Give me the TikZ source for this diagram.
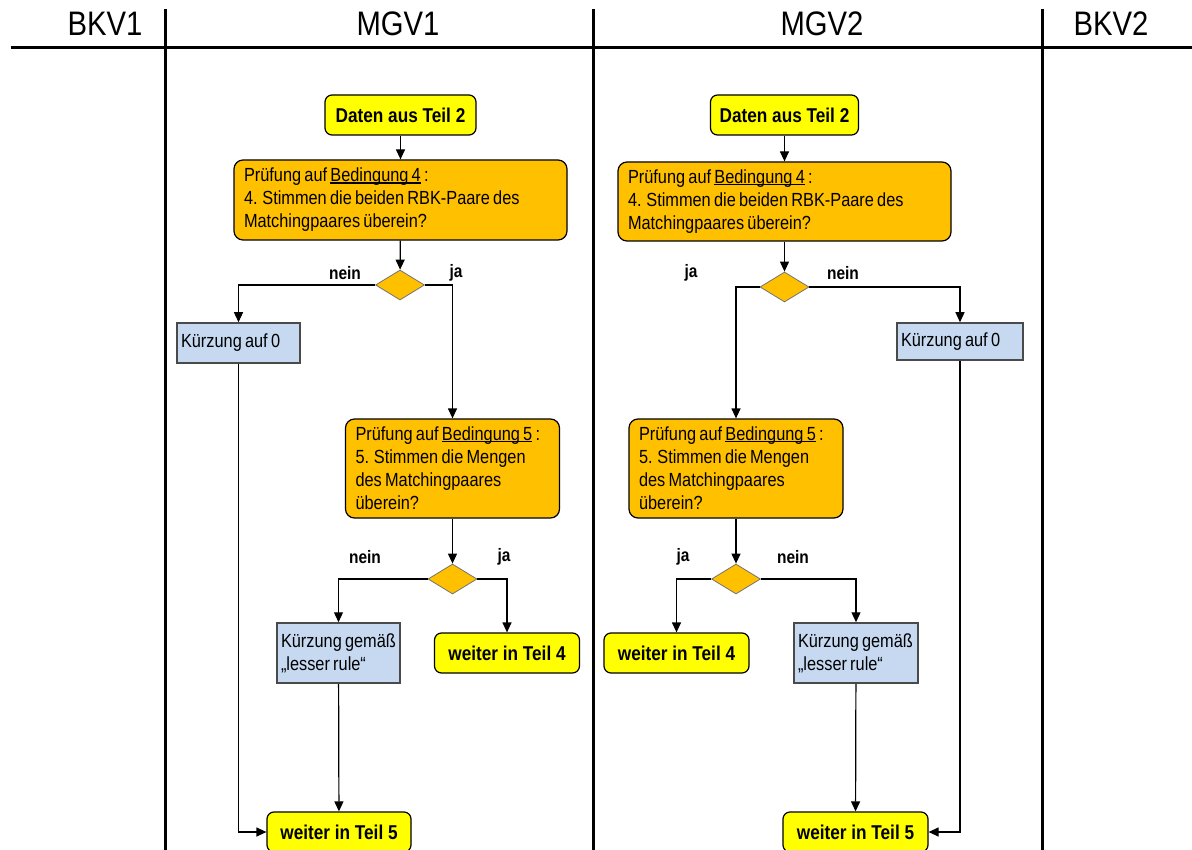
\documentclass[tikz,border=0pt]{standalone}
\usepackage{fontspec}
\setmainfont{Liberation Sans}[FakeStretch=0.86]
\newfontfamily\bodyfont{Liberation Sans}[FakeStretch=0.86]
\newcommand\tightsp{\spaceskip=0.17em plus 0.05em minus 0.02em\relax}
\newcommand\bline[1]{{\setbox0\hbox{#1}\rlap{\rule[-1.6pt]{\wd0}{1.5pt}}\box0}}
\usetikzlibrary{arrows.meta,shapes.geometric}
\definecolor{orangeC}{HTML}{FFC000}
\definecolor{yellowC}{HTML}{FFFF00}
\definecolor{blueC}{HTML}{C6D9F1}
\definecolor{blueD}{HTML}{4A4A4A}
\tikzset{
  lane/.style={line width=3pt},
  hdr/.style={anchor=base,font=\fontsize{34}{40}\selectfont},
  obox/.style={rounded corners=9pt,fill=orangeC,draw=black,line width=1.2pt,align=flush left,inner xsep=10pt,inner ysep=0pt,font=\bodyfont\fontsize{19}{23}\selectfont,execute at begin node=\tightsp},
  ybox/.style={rounded corners=7pt,fill=yellowC,draw=black,line width=1.2pt,align=center,inner sep=0pt,minimum height=40pt,font=\bfseries\fontsize{20}{24}\selectfont},
  bbox/.style={fill=blueC,draw=blueD,line width=1.5pt,align=flush left,inner xsep=4pt,inner ysep=0pt,font=\bodyfont\fontsize{19}{23}\selectfont,execute at begin node=\tightsp},
  dia/.style={diamond,fill=orangeC,draw=black!55,line width=0.8pt,inner sep=0pt,minimum width=49pt,minimum height=30pt},
  lbl/.style={font=\bfseries\fontsize{18}{22}\selectfont,inner sep=0pt},
  arr/.style={line width=1.2pt,-{Triangle[length=10pt,width=9pt]}},
}
\begin{document}
\begin{tikzpicture}[x=1pt,y=-1pt]
\useasboundingbox (0,0) rectangle (1192,850);
% lanes
\draw[lane] (11,48) -- (1192,48);
\draw[lane] (165,9) -- (165,850);
\draw[lane] (593,9) -- (593,850);
\draw[lane] (1042,9) -- (1042,850);
\node[hdr] (h1) at (105,36) {BKV1};
\node[hdr] (h2) at (398,36) {MGV1};
\node[hdr] (h3) at (822,36) {MGV2};
\node[hdr] (h4) at (1111,36) {BKV2};

% ---------- left flow (MGV1)
\node[ybox,minimum width=151pt] (Ld) at (400.5,115) {Daten aus Teil 2};
\node[obox,text width=313pt,minimum height=80pt] (Lp1) at (400.5,200) {Prüfung auf \bline{Bedingung 4} :\\4. Stimmen die beiden RBK-Paare des\\Matchingpaares überein?};
\node[dia] (L1) at (400,285) {};
\node[bbox,text width=115pt,minimum height=40pt] (Lk0) at (238.5,343) {Kürzung auf 0};
\node[obox,text width=194pt,minimum height=99pt] (Lp2) at (452.5,468.5) {Prüfung auf \bline{Bedingung 5} :\\5. Stimmen die Mengen\\des Matchingpaares\\überein?};
\node[dia] (L2) at (452.5,579) {};
\node[bbox,text width=115pt,minimum height=60pt] (Ll) at (338.5,653) {Kürzung gemäß\\„lesser rule“};
\node[ybox,minimum width=145pt] (Lw4) at (507,653) {weiter in Teil 4};
\node[ybox,minimum width=144pt] (Lw5) at (339,832) {weiter in Teil 5};

\node[lbl] (Ln1) at (345,273) {nein};
\node[lbl] (Lj1) at (456,273) {ja};
\node[lbl] (Ln2) at (365,557) {nein};
\node[lbl] (Lj2) at (504,557) {ja};

\draw[arr] (Ld) -- (Lp1);
\draw[arr] (Lp1) -- (L1);
\draw[arr] (L1.west) -| (Lk0.north);
\draw[arr] (L1.east) -| (Lp2.north);
\draw[arr] (Lp2) -- (L2);
\draw[arr] (L2.west) -| (Ll.north);
\draw[arr] (L2.east) -| (Lw4.north);
\draw[arr] (Ll) -- (Lw5);
\draw[arr] (Lk0.south) |- (Lw5.west);

% ---------- right flow (MGV2)
\node[ybox,minimum width=148pt] (Rd) at (784.5,115) {Daten aus Teil 2};
\node[obox,text width=313pt,minimum height=79pt] (Rp1) at (784.5,201.5) {Prüfung auf \bline{Bedingung 4} :\\4. Stimmen die beiden RBK-Paare des\\Matchingpaares überein?};
\node[dia] (R1) at (784.5,287) {};
\node[bbox,text width=118pt,minimum height=37pt] (Rk0) at (960,341.5) {Kürzung auf 0};
\node[obox,text width=194pt,minimum height=99pt] (Rp2) at (736,468.5) {Prüfung auf \bline{Bedingung 5} :\\5. Stimmen die Mengen\\des Matchingpaares\\überein?};
\node[dia] (R2) at (736,579) {};
\node[ybox,minimum width=145pt] (Rw4) at (676.5,653) {weiter in Teil 4};
\node[bbox,text width=116pt,minimum height=60pt] (Rl) at (856,653) {Kürzung gemäß\\„lesser rule“};
\node[ybox,minimum width=145pt] (Rw5) at (855.5,832) {weiter in Teil 5};

\node[lbl] (Rj1) at (691,273) {ja};
\node[lbl] (Rn1) at (843,273) {nein};
\node[lbl] (Rj2) at (683,557) {ja};
\node[lbl] (Rn2) at (793,557) {nein};

\draw[arr] (Rd) -- (Rp1);
\draw[arr] (Rp1) -- (R1);
\draw[arr] (R1.west) -| (Rp2.north);
\draw[arr] (R1.east) -| (Rk0.north);
\draw[arr] (Rp2) -- (R2);
\draw[arr] (R2.west) -| (Rw4.north);
\draw[arr] (R2.east) -| (Rl.north);
\draw[arr] (Rl) -- (Rw5);
\draw[arr] (Rk0.south) |- (Rw5.east);
\end{tikzpicture}
\end{document}
